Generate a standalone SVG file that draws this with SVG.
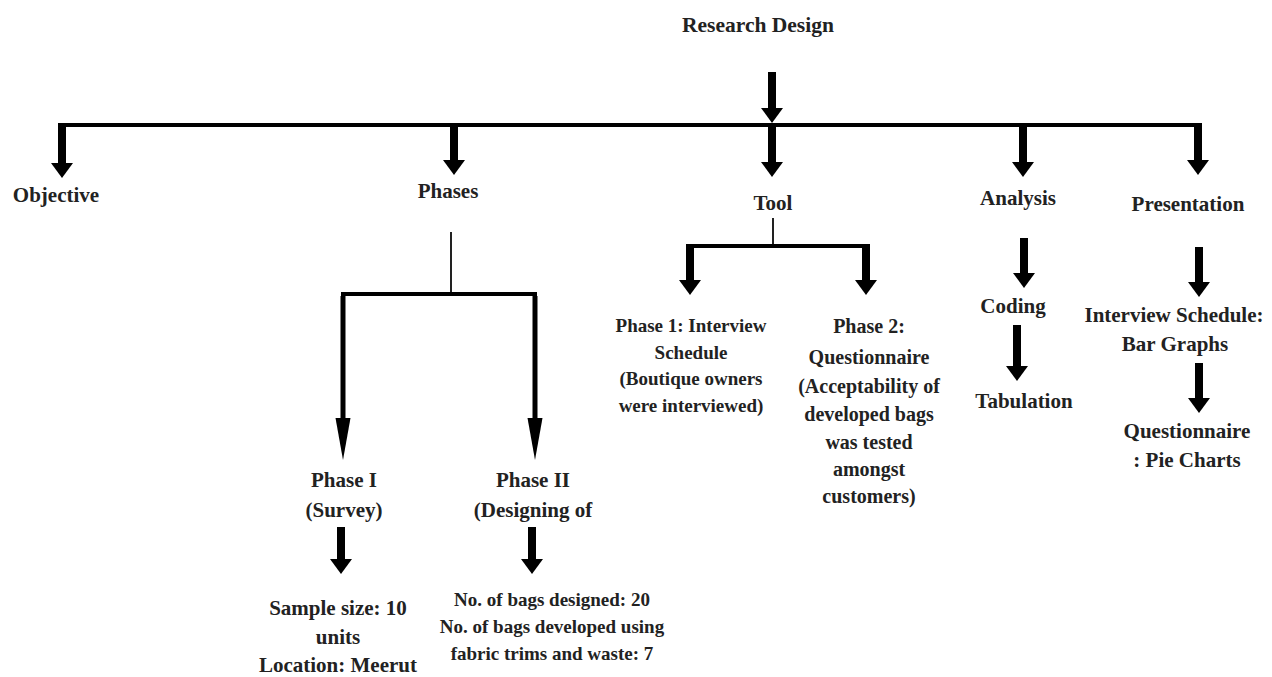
<svg xmlns="http://www.w3.org/2000/svg" width="1272" height="677" viewBox="0 0 1272 677">
<style>
text{font-family:"Liberation Serif","Times New Roman",serif;font-weight:bold;fill:#222;text-anchor:middle}
.l{font-size:21px}
.m{font-size:20px}
.s{font-size:19px}
.thick{stroke:#000;stroke-width:8;fill:none}
.bar{stroke:#000;stroke-width:4;fill:none}
.thin{stroke:#222;stroke-width:2;fill:none}
.mid{stroke:#000;stroke-width:5;fill:none}
</style>
<defs>
<marker id="blk" markerUnits="userSpaceOnUse" viewBox="0 -11 15 22" markerWidth="15" markerHeight="22" refX="0" refY="0" orient="auto">
<path d="M0,-11 L15,0 L0,11 z" fill="#000"/>
</marker>
<marker id="nar" markerUnits="userSpaceOnUse" viewBox="0 -8 42 16" markerWidth="42" markerHeight="16" refX="0" refY="0" orient="auto">
<path d="M0,-7.5 L42,0 L0,7.5 z" fill="#000"/>
</marker>
</defs>
<g id="connectors">
<line class="thick" x1="772" y1="72" x2="772" y2="108" marker-end="url(#blk)"/>
<line class="bar" x1="60" y1="125" x2="1200" y2="125"/>
<line class="thick" x1="62" y1="123" x2="62" y2="163" marker-end="url(#blk)"/>
<line class="thick" x1="454" y1="123" x2="454" y2="160" marker-end="url(#blk)"/>
<line class="thick" x1="772" y1="123" x2="772" y2="162" marker-end="url(#blk)"/>
<line class="thick" x1="1023" y1="123" x2="1023" y2="162" marker-end="url(#blk)"/>
<line class="thick" x1="1198" y1="123" x2="1198" y2="160" marker-end="url(#blk)"/>
<line class="thin" x1="451" y1="232" x2="451" y2="294"/>
<polyline class="bar" points="343,420 343,294 535,294 535,420"/>
<line class="mid" x1="343" y1="296" x2="343" y2="418" marker-end="url(#nar)"/>
<line class="mid" x1="535" y1="296" x2="535" y2="418" marker-end="url(#nar)"/>
<line class="thick" x1="341" y1="527" x2="341" y2="559" marker-end="url(#blk)"/>
<line class="thick" x1="532" y1="527" x2="532" y2="559" marker-end="url(#blk)"/>
<line class="thin" x1="773" y1="218" x2="773" y2="246"/>
<line class="bar" x1="688" y1="246" x2="868" y2="246"/>
<line class="thick" x1="690" y1="244" x2="690" y2="280" marker-end="url(#blk)"/>
<line class="thick" x1="866" y1="244" x2="866" y2="280" marker-end="url(#blk)"/>
<line class="thick" x1="1024" y1="238" x2="1024" y2="273" marker-end="url(#blk)"/>
<line class="thick" x1="1017" y1="325" x2="1017" y2="366" marker-end="url(#blk)"/>
<line class="thick" x1="1199" y1="247" x2="1199" y2="282" marker-end="url(#blk)"/>
<line class="thick" x1="1199" y1="363" x2="1199" y2="398" marker-end="url(#blk)"/>
</g>
<g id="research-design"><text x="758" y="32" style="font-size:21.5px">Research Design</text></g>
<g id="objective"><text class="l" x="56" y="202">Objective</text></g>
<g id="phases"><text class="l" x="448" y="198">Phases</text></g>
<g id="tool"><text class="l" x="773" y="210">Tool</text></g>
<g id="analysis"><text class="l" x="1018" y="205">Analysis</text></g>
<g id="presentation"><text class="l" x="1188" y="211">Presentation</text></g>
<g id="phase-1"><text class="l" x="344" y="487">Phase I</text><text class="l" x="344" y="517">(Survey)</text></g>
<g id="phase-2"><text class="l" x="533" y="487">Phase II</text><text class="l" x="533" y="517">(Designing of</text></g>
<g id="phase-1-details"><text class="l" x="338" y="615">Sample size: 10</text><text class="l" x="338" y="644">units</text><text class="l" x="338" y="672">Location: Meerut</text></g>
<g id="phase-2-details"><text class="s" x="552" y="606">No. of bags designed: 20</text><text class="s" x="552" y="633">No. of bags developed using</text><text class="s" x="552" y="660">fabric trims and waste: 7</text></g>
<g id="tool-phase-1"><text class="s" x="691" y="332">Phase 1: Interview</text><text class="s" x="691" y="359">Schedule</text><text class="s" x="691" y="385">(Boutique owners</text><text class="s" x="691" y="412">were interviewed)</text></g>
<g id="tool-phase-2"><text class="m" x="869" y="333">Phase 2:</text><text class="m" x="869" y="364">Questionnaire</text><text class="m" x="869" y="393">(Acceptability of</text><text class="m" x="869" y="421">developed bags</text><text class="m" x="869" y="449">was tested</text><text class="m" x="869" y="476">amongst</text><text class="m" x="869" y="503">customers)</text></g>
<g id="coding"><text class="l" x="1013" y="313">Coding</text></g>
<g id="tabulation"><text class="l" x="1024" y="408">Tabulation</text></g>
<g id="pres-interview"><text class="l" x="1174" y="322">Interview Schedule:</text><text class="l" x="1175" y="351">Bar Graphs</text></g>
<g id="pres-questionnaire"><text class="l" x="1187" y="438">Questionnaire</text><text class="l" x="1187" y="467">: Pie Charts</text></g>
</svg>
